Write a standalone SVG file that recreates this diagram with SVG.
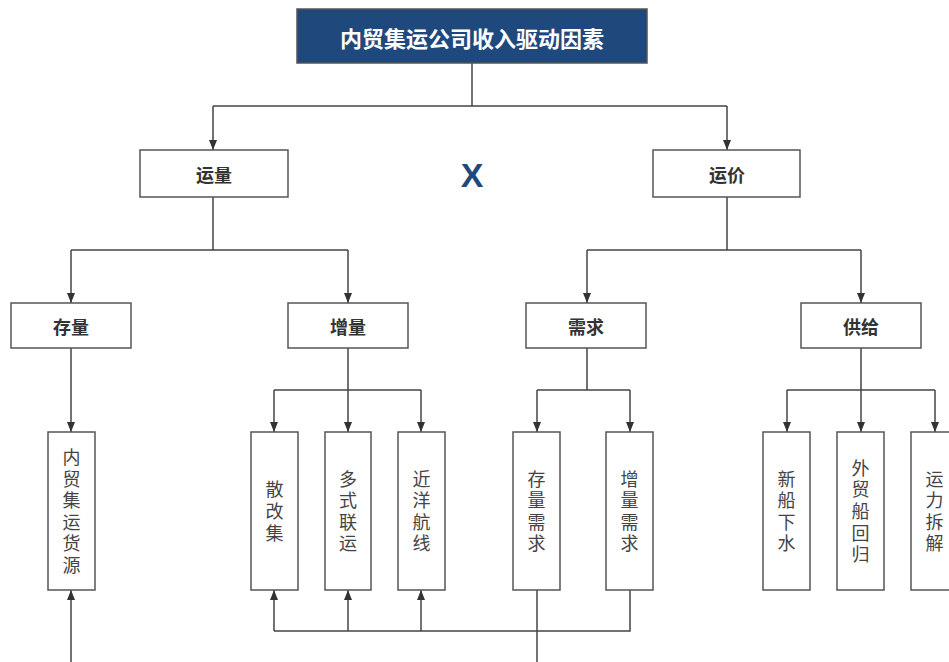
<svg xmlns="http://www.w3.org/2000/svg" width="949" height="662" viewBox="0 0 949 662">
<defs>
<marker id="arr" markerUnits="userSpaceOnUse" markerWidth="10" markerHeight="8" refX="10" refY="4" orient="auto">
<path d="M0,0 L10,4 L0,8 z" fill="#333"/>
</marker>
<style>
.box{fill:#fff;stroke:#555;stroke-width:1.5}
.lbl{font-family:"Noto Sans CJK SC","Noto Sans",sans-serif;font-size:18px;font-weight:bold;fill:#333;text-anchor:middle;dominant-baseline:central}
.vt{font-family:"Noto Sans CJK SC","Noto Sans",sans-serif;font-size:18px;fill:#444;text-anchor:middle;writing-mode:vertical-rl;letter-spacing:3.6px}
.ln{fill:none;stroke:#444;stroke-width:1.5}
.ar{fill:none;stroke:#444;stroke-width:1.5;marker-end:url(#arr)}
</style>
</defs>
<rect width="949" height="662" fill="#fff"/>
<g id="connectors">
<path class="ln" d="M472,62 V106 M213,106 H727"/>
<path class="ar" d="M213,106 V150"/>
<path class="ar" d="M727,106 V150"/>
<path class="ln" d="M213,197 V250 M71,250 H348"/>
<path class="ar" d="M71,250 V303"/>
<path class="ar" d="M348,250 V303"/>
<path class="ln" d="M727,197 V250 M587,250 H861"/>
<path class="ar" d="M587,250 V303"/>
<path class="ar" d="M861,250 V303"/>
<path class="ar" d="M71,348 V432"/>
<path class="ln" d="M348,348 V390 M274,390 H421"/>
<path class="ar" d="M274,390 V432"/>
<path class="ar" d="M348,390 V432"/>
<path class="ar" d="M421,390 V432"/>
<path class="ln" d="M587,348 V390 M537,390 H630"/>
<path class="ar" d="M537,390 V432"/>
<path class="ar" d="M630,390 V432"/>
<path class="ln" d="M861,348 V390 M787,390 H935"/>
<path class="ar" d="M787,390 V432"/>
<path class="ar" d="M861,390 V432"/>
<path class="ar" d="M935,390 V432"/>
<path class="ar" d="M71,662 V590"/>
<path class="ln" d="M630,590 V631 H274"/>
<path class="ar" d="M274,631 V590"/>
<path class="ar" d="M348,631 V590"/>
<path class="ar" d="M421,631 V590"/>
<path class="ln" d="M537,590 V662"/>
</g>
<g id="root">
<rect x="297" y="9" width="350" height="54" fill="#1f497d" stroke="#555" stroke-width="1.5"/>
<text x="472" y="37" class="lbl" style="fill:#fff;font-size:22px">内贸集运公司收入驱动因素</text>
</g>
<g id="times">
<text x="472" y="187" style="font-family:'Liberation Sans',Arial,sans-serif;font-weight:bold;font-size:34px;fill:#1f497d;text-anchor:middle">X</text>
</g>
<g id="yunliang"><rect class="box" x="140" y="150" width="148" height="47"/><text class="lbl" x="214" y="174">运量</text></g>
<g id="yunjia"><rect class="box" x="653" y="150" width="147" height="47"/><text class="lbl" x="727" y="174">运价</text></g>
<g id="cunliang"><rect class="box" x="11" y="303" width="120" height="45"/><text class="lbl" x="71" y="326">存量</text></g>
<g id="zengliang"><rect class="box" x="288" y="303" width="120" height="45"/><text class="lbl" x="348" y="326">增量</text></g>
<g id="xuqiu"><rect class="box" x="526" y="303" width="120" height="45"/><text class="lbl" x="586" y="326">需求</text></g>
<g id="gongji"><rect class="box" x="801" y="303" width="120" height="45"/><text class="lbl" x="861" y="326">供给</text></g>
<g id="huoyuan"><rect class="box" x="48" y="432" width="47" height="158"/><text class="vt" x="71.5" y="513">内贸集运货源</text></g>
<g id="sangaiji"><rect class="box" x="251" y="432" width="47" height="158"/><text class="vt" x="274.5" y="513">散改集</text></g>
<g id="duoshi"><rect class="box" x="325" y="432" width="46" height="158"/><text class="vt" x="348" y="513">多式联运</text></g>
<g id="jinyang"><rect class="box" x="398" y="432" width="47" height="158"/><text class="vt" x="421.5" y="513">近洋航线</text></g>
<g id="cunliangxuqiu"><rect class="box" x="513" y="432" width="47" height="158"/><text class="vt" x="536.5" y="513">存量需求</text></g>
<g id="zengliangxuqiu"><rect class="box" x="606" y="432" width="47" height="158"/><text class="vt" x="629.5" y="513">增量需求</text></g>
<g id="xinchuan"><rect class="box" x="763" y="432" width="47" height="158"/><text class="vt" x="786.5" y="513">新船下水</text></g>
<g id="waimao"><rect class="box" x="837" y="432" width="47" height="158"/><text class="vt" x="860.5" y="513">外贸船回归</text></g>
<g id="chaijie"><rect class="box" x="911" y="432" width="47" height="158"/><text class="vt" x="934.5" y="513">运力拆解</text></g>
</svg>
